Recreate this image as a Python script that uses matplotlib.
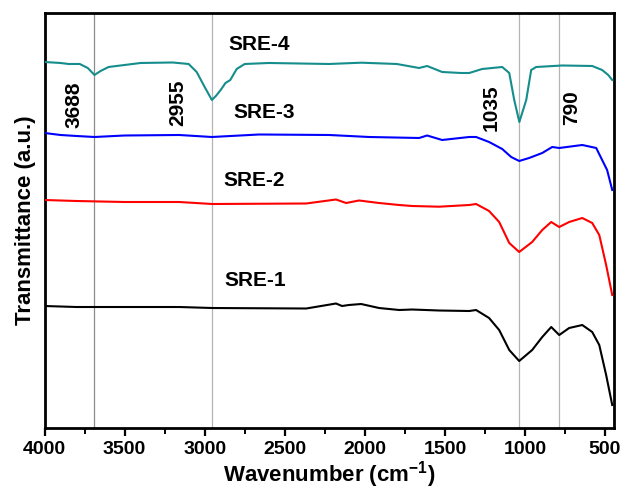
import matplotlib
matplotlib.use("Agg")
import matplotlib.pyplot as plt
from matplotlib.ticker import MultipleLocator

plt.rcParams['font.family'] = ['Liberation Sans', 'DejaVu Sans']
plt.rcParams['font.weight'] = 'bold'
plt.rcParams['mathtext.fontset'] = 'custom'
plt.rcParams['mathtext.rm'] = 'Liberation Sans:bold'
plt.rcParams['mathtext.bf'] = 'Liberation Sans:bold'

# spectra (wavenumber, transmittance in a.u. with offsets)
wn_sre4 = [4000, 3900, 3850, 3780, 3730, 3688, 3650, 3600, 3500, 3400, 3200, 3100, 3050, 3000,
           2955, 2930, 2900, 2870, 2840, 2800, 2750, 2600, 2223, 2022, 1800, 1661, 1611, 1517,
           1400, 1348, 1267, 1142, 1098, 1067, 1035, 992, 961, 930, 767, 580, 518, 480, 455]
t_sre4 = [366, 365, 364, 364, 360, 353, 357, 361, 363, 365, 365.5, 364, 356, 341,
          328, 332, 338, 345, 348, 359, 364, 365, 364, 365.3, 364, 360, 362, 356,
          355, 355, 359, 361, 355, 328, 306, 328, 358, 361, 362.5, 362, 358, 353, 348]

wn_sre3 = [4000, 3900, 3800, 3688, 3500, 3159, 2955, 2660, 2223, 1973, 1661, 1611, 1517, 1348,
           1305, 1224, 1142, 1086, 1036, 974, 892, 830, 786, 642, 555, 518, 487, 455]
t_sre3 = [295, 293, 292, 291, 292.5, 293, 291, 293.5, 293, 291, 290, 292.5, 288, 291,
          291, 286, 279, 271, 267, 270, 275, 281, 280, 283, 280, 268, 258, 238]

wn_sre2 = [4000, 3800, 3500, 3159, 2953, 2366, 2180, 2117, 2036, 1911, 1785, 1705, 1536, 1348,
           1305, 1224, 1161, 1098, 1036, 955, 892, 836, 786, 724, 642, 580, 536, 493, 455]
t_sre2 = [228, 227, 226, 226, 224, 224.5, 228.5, 225, 227.5, 225, 223, 222, 221.3, 223,
          224, 217, 206, 185, 176, 186, 198, 206, 201, 206, 210, 205, 193, 163, 133]

wn_sre1 = [4000, 3800, 3500, 3159, 2953, 2366, 2180, 2142, 2100, 2023, 1911, 1785, 1705, 1536,
           1348, 1305, 1224, 1161, 1098, 1036, 955, 892, 836, 786, 724, 642, 580, 536, 493, 455]
t_sre1 = [122, 121, 121, 121, 120, 119.5, 124.5, 122, 123, 124, 120, 118, 118.5, 117.5,
          117, 118, 110, 98, 78, 67, 78, 91, 101, 93, 100, 103, 96, 83, 53, 23]

band_positions = [3688, 2955, 1035, 790]
band_colors = ["#8c8c8c", "#b4b4b4", "#b4b4b4", "#b4b4b4"]

fig = plt.figure(figsize=(6.27, 4.90), dpi=100)
ax = fig.add_axes([0.071, 0.1265, 0.908, 0.847])

for b, c in zip(band_positions, band_colors):
    ax.axvline(b, color=c, lw=0.9, zorder=1)

ax.plot(wn_sre1, t_sre1, color="black", lw=1.5, zorder=3)
ax.plot(wn_sre2, t_sre2, color="#ff0000", lw=1.5, zorder=3)
ax.plot(wn_sre3, t_sre3, color="#0000ff", lw=1.5, zorder=3)
ax.plot(wn_sre4, t_sre4, color="#158d8d", lw=1.5, zorder=3)

# sample names
ax.text(2660, 383, "SRE-4", fontsize=15, ha="center", va="center")
ax.text(2628, 315, "SRE-3", fontsize=15, ha="center", va="center")
ax.text(2691, 247, "SRE-2", fontsize=15, ha="center", va="center")
ax.text(2685, 148, "SRE-1", fontsize=15, ha="center", va="center")

# band labels
ax.text(3814, 323, "3688", fontsize=15, rotation=90, ha="center", va="center")
ax.text(3171, 325, "2955", fontsize=15, rotation=90, ha="center", va="center")
ax.text(1211, 320, "1035", fontsize=15, rotation=90, ha="center", va="center")
ax.text(706, 320, "790", fontsize=15, rotation=90, ha="center", va="center")

ax.set_xlim(4000, 445)
ax.set_ylim(0, 415)
ax.xaxis.set_major_locator(MultipleLocator(500))
ax.xaxis.set_minor_locator(MultipleLocator(250))
ax.set_yticks([])
ax.tick_params(axis="x", which="major", length=6, width=1.6, labelsize=14, direction="out")
ax.tick_params(axis="x", which="minor", length=4, width=1.4, direction="out")
for s in ax.spines.values():
    s.set_linewidth(2)

ax.set_xlabel("Wavenumber (cm$^{\\mathbf{-1}}$)", fontsize=16, fontweight="bold", labelpad=1)
ax.set_ylabel("Transmittance (a.u.)", fontsize=16, fontweight="bold", labelpad=6)

fig.savefig("out.png", dpi=100)
